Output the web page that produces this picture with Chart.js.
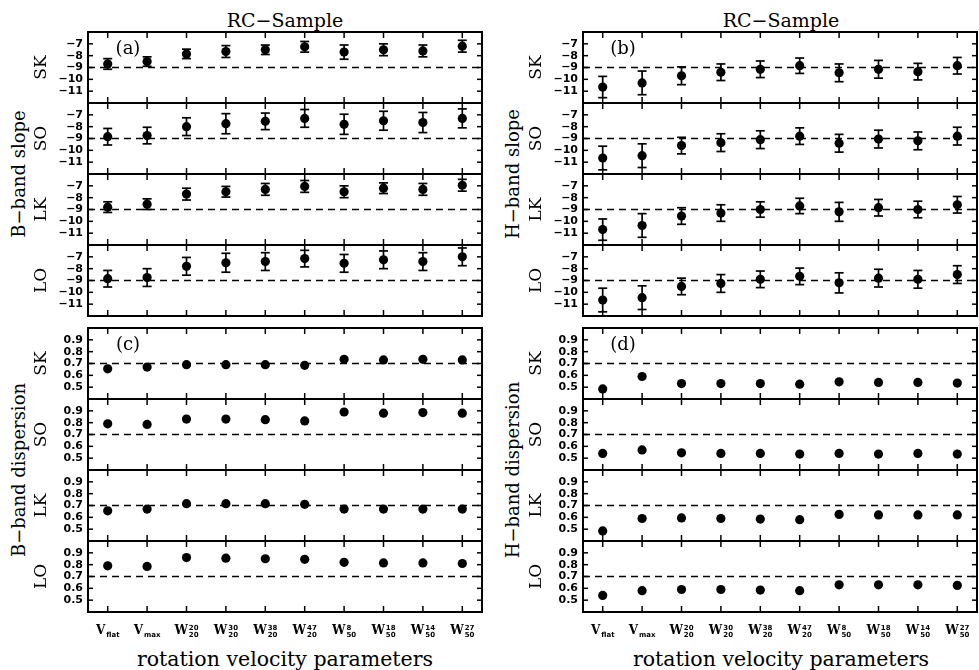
<!DOCTYPE html>
<html>
<head>
<meta charset="utf-8">
<script src="https://cdn.jsdelivr.net/npm/chart.js@4.4.1/dist/chart.umd.min.js"></script>
<style>
  html, body { margin: 0; padding: 0; background: #fff; }
  body { width: 979px; height: 670px; position: relative; overflow: hidden; font-family: 'DejaVu Serif', serif; color: #000; }
  canvas { position: absolute; }
  .txt { position: absolute; white-space: nowrap; transform: translate(-50%, -50%); }
  .vert { transform: translate(-50%, -50%) rotate(-90deg); }
</style>
</head>
<body>
<div class="txt" style="left:285px;top:20px;font-size:19px">RC−Sample</div>
<div class="txt" style="left:781px;top:20px;font-size:19px">RC−Sample</div>
<div class="txt vert" style="left:18px;top:174px;font-size:18px">B−band slope</div>
<div class="txt vert" style="left:18px;top:470px;font-size:18px">B−band dispersion</div>
<div class="txt vert" style="left:512px;top:174px;font-size:18px">H−band slope</div>
<div class="txt vert" style="left:512px;top:470px;font-size:18px">H−band dispersion</div>
<div class="txt" style="left:285px;top:659px;font-size:20.5px">rotation velocity parameters</div>
<div class="txt" style="left:781px;top:659px;font-size:20.5px">rotation velocity parameters</div>

<script>
// x categories and their label parts (base letter, superscript, subscript)
const categories = ['Vflat', 'Vmax', 'W20_20', 'W30_20', 'W38_20', 'W47_20', 'W8_50', 'W18_50', 'W14_50', 'W27_50'];
const xBase = ['V', 'V', 'W', 'W', 'W', 'W', 'W', 'W', 'W', 'W'];
const xSup = ['', '', '20', '30', '38', '47', '8', '18', '14', '27'];
const xSub = ['flat', 'max', '20', '20', '20', '20', '50', '50', '50', '50'];
const rowNames = ['SK', 'SO', 'LK', 'LO'];

const slopeTicks = [-11, -10, -9, -8, -7];
const dispTicks = [0.5, 0.6, 0.7, 0.8, 0.9];

// (a) B-band slope
const bSlopeSK = [-8.7, -8.5, -7.85, -7.65, -7.5, -7.25, -7.7, -7.5, -7.6, -7.2];
const bSlopeSKErr = [0.45, 0.4, 0.4, 0.5, 0.4, 0.45, 0.6, 0.5, 0.5, 0.5];
const bSlopeSO = [-8.85, -8.75, -8.0, -7.75, -7.55, -7.3, -7.8, -7.5, -7.65, -7.3];
const bSlopeSOErr = [0.7, 0.7, 0.75, 0.85, 0.7, 0.75, 0.85, 0.8, 0.85, 0.8];
const bSlopeLK = [-8.8, -8.55, -7.7, -7.5, -7.3, -7.05, -7.5, -7.2, -7.3, -6.95];
const bSlopeLKErr = [0.45, 0.45, 0.5, 0.45, 0.5, 0.5, 0.5, 0.45, 0.5, 0.5];
const bSlopeLO = [-8.85, -8.75, -7.8, -7.5, -7.4, -7.15, -7.55, -7.25, -7.4, -7.0];
const bSlopeLOErr = [0.7, 0.75, 0.75, 0.8, 0.75, 0.7, 0.75, 0.75, 0.75, 0.75];

// (b) H-band slope
const hSlopeSK = [-10.65, -10.3, -9.7, -9.4, -9.15, -8.85, -9.45, -9.15, -9.35, -8.85];
const hSlopeSKErr = [0.9, 1.0, 0.75, 0.7, 0.7, 0.65, 0.75, 0.75, 0.7, 0.7];
const hSlopeSO = [-10.65, -10.45, -9.6, -9.35, -9.1, -8.8, -9.4, -9.05, -9.2, -8.8];
const hSlopeSOErr = [1.0, 1.0, 0.7, 0.75, 0.75, 0.7, 0.75, 0.75, 0.75, 0.75];
const hSlopeLK = [-10.7, -10.35, -9.55, -9.3, -9.0, -8.7, -9.2, -8.85, -9.0, -8.6];
const hSlopeLKErr = [0.9, 1.0, 0.7, 0.7, 0.65, 0.65, 0.8, 0.7, 0.7, 0.7];
const hSlopeLO = [-10.65, -10.45, -9.5, -9.25, -8.9, -8.65, -9.2, -8.8, -8.9, -8.5];
const hSlopeLOErr = [1.0, 1.0, 0.7, 0.75, 0.7, 0.7, 0.85, 0.75, 0.75, 0.75];

// (c) B-band dispersion
const bDispSK = [0.655, 0.67, 0.69, 0.69, 0.69, 0.685, 0.735, 0.73, 0.735, 0.73];
const bDispSO = [0.79, 0.785, 0.83, 0.83, 0.825, 0.815, 0.89, 0.88, 0.885, 0.88];
const bDispLK = [0.655, 0.67, 0.715, 0.715, 0.715, 0.71, 0.67, 0.67, 0.67, 0.67];
const bDispLO = [0.79, 0.785, 0.86, 0.855, 0.85, 0.845, 0.82, 0.815, 0.815, 0.81];

// (d) H-band dispersion
const hDispSK = [0.485, 0.59, 0.53, 0.53, 0.53, 0.525, 0.545, 0.54, 0.54, 0.535];
const hDispSO = [0.54, 0.57, 0.545, 0.54, 0.54, 0.535, 0.54, 0.535, 0.54, 0.535];
const hDispLK = [0.485, 0.59, 0.595, 0.59, 0.585, 0.58, 0.625, 0.62, 0.62, 0.62];
const hDispLO = [0.54, 0.58, 0.59, 0.59, 0.585, 0.58, 0.63, 0.63, 0.63, 0.625];

// layout
const colLeft = [88, 583];
const plotW = 394;
const panelH = 71;
const slopeTop = 32;
const dispTop = 328;
const yAxisW = 60;

function line(ctx, x1, y1, x2, y2) {
    ctx.beginPath();
    ctx.moveTo(x1, y1);
    ctx.lineTo(x2, y2);
    ctx.stroke();
}

// frame, ticks, reference line, error bars, labels
const deco = {
    id: 'deco',
    beforeDatasetsDraw(chart, args, opts) {
        const { ctx, chartArea: a, scales: { x, y } } = chart;
        ctx.save();
        ctx.strokeStyle = '#000';
        ctx.lineWidth = 1.4;
        ctx.setLineDash([7, 5]);
        const ry = y.getPixelForValue(opts.ref);
        line(ctx, a.left, ry, a.right, ry);
        ctx.setLineDash([]);

        const ds = chart.data.datasets[0];
        if (ds.errors) {
            ctx.lineWidth = 1.7;
            ds.data.forEach((v, i) => {
                const px = x.getPixelForValue(i);
                const e = ds.errors[i];
                const y1 = y.getPixelForValue(v + e);
                const y2 = y.getPixelForValue(v - e);
                line(ctx, px, y1, px, y2);
                line(ctx, px - 4.5, y1, px + 4.5, y1);
                line(ctx, px - 4.5, y2, px + 4.5, y2);
            });
        }
        ctx.restore();
    },
    afterDatasetsDraw(chart, args, opts) {
        const { ctx, chartArea: a, scales: { x, y } } = chart;
        ctx.save();
        ctx.strokeStyle = '#000';
        ctx.fillStyle = '#000';
        ctx.lineWidth = 2;
        ctx.strokeRect(a.left, a.top, a.right - a.left, a.bottom - a.top);

        ctx.lineWidth = 1.5;
        categories.forEach((c, i) => {
            const px = x.getPixelForValue(i);
            line(ctx, px, a.top, px, a.top + 6);
            line(ctx, px, a.bottom - 6, px, a.bottom);
        });
        y.ticks.forEach(t => {
            const py = y.getPixelForValue(t.value);
            line(ctx, a.left, py, a.left + 5, py);
            line(ctx, a.right - 5, py, a.right, py);
        });

        // row label
        ctx.save();
        ctx.font = '17px "DejaVu Serif"';
        ctx.textAlign = 'center';
        ctx.textBaseline = 'middle';
        ctx.translate(a.left - 46, (a.top + a.bottom) / 2);
        ctx.rotate(-Math.PI / 2);
        ctx.fillText(opts.row, 0, 0);
        ctx.restore();

        if (opts.letter) {
            ctx.font = '18px "DejaVu Serif"';
            ctx.textAlign = 'center';
            ctx.textBaseline = 'middle';
            ctx.fillText(opts.letter, a.left + 40, a.top + 17);
        }

        if (opts.showX) {
            ctx.textBaseline = 'alphabetic';
            ctx.textAlign = 'left';
            categories.forEach((c, i) => {
                const px = x.getPixelForValue(i);
                ctx.font = 'bold 12px "DejaVu Serif"';
                const wb = ctx.measureText(xBase[i]).width;
                ctx.font = 'bold 7px "DejaVu Sans"';
                const ws = Math.max(ctx.measureText(xSup[i]).width, ctx.measureText(xSub[i]).width);
                const x0 = px - (wb + ws + 1) / 2;
                ctx.font = 'bold 12px "DejaVu Serif"';
                ctx.fillText(xBase[i], x0, a.bottom + 22);
                ctx.font = 'bold 7px "DejaVu Sans"';
                if (xSup[i]) ctx.fillText(xSup[i], x0 + wb + 1, a.bottom + 18);
                ctx.fillText(xSub[i], x0 + wb + 1, a.bottom + 25);
            });
        }
        ctx.restore();
    }
};

function makePanel(p) {
    const canvas = document.createElement('canvas');
    const extra = p.showX ? 50 : 0;
    canvas.width = yAxisW + plotW + 2;
    canvas.height = panelH + 4 + extra;
    canvas.style.left = (colLeft[p.col] - yAxisW) + 'px';
    canvas.style.top = (p.top - 2) + 'px';
    document.body.appendChild(canvas);

    new Chart(canvas, {
        type: 'line',
        data: {
            labels: categories,
            datasets: [{
                data: p.values,
                errors: p.errors,
                showLine: false,
                pointRadius: 4.6,
                pointHoverRadius: 4.6,
                pointBorderWidth: 0,
                pointBackgroundColor: '#000',
                pointBorderColor: '#000'
            }]
        },
        options: {
            responsive: false,
            animation: false,
            devicePixelRatio: 1,
            events: [],
            layout: { autoPadding: false, padding: { left: 0, right: 2, top: 2, bottom: 2 + extra } },
            plugins: {
                legend: { display: false },
                tooltip: { enabled: false },
                deco: { ref: p.ref, row: p.row, letter: p.letter, showX: p.showX }
            },
            scales: {
                x: { display: false, offset: true },
                y: {
                    min: p.min,
                    max: p.max,
                    afterBuildTicks: s => { s.ticks = p.ticks.map(v => ({ value: v })); },
                    afterFit: s => { s.width = yAxisW; s.paddingTop = 0; s.paddingBottom = 0; },
                    grid: { display: false, drawTicks: false },
                    border: { display: false },
                    ticks: {
                        autoSkip: false,
                        padding: 5,
                        color: '#000',
                        font: { family: 'DejaVu Sans', weight: 'bold', size: 11 },
                        callback: p.fmt
                    }
                }
            }
        },
        plugins: [deco]
    });
}

const slopeFmt = v => '−' + Math.abs(v);
const dispFmt = v => v.toFixed(1);

const slopeSets = [
    [[bSlopeSK, bSlopeSKErr], [bSlopeSO, bSlopeSOErr], [bSlopeLK, bSlopeLKErr], [bSlopeLO, bSlopeLOErr]],
    [[hSlopeSK, hSlopeSKErr], [hSlopeSO, hSlopeSOErr], [hSlopeLK, hSlopeLKErr], [hSlopeLO, hSlopeLOErr]]
];
const dispSets = [
    [bDispSK, bDispSO, bDispLK, bDispLO],
    [hDispSK, hDispSO, hDispLK, hDispLO]
];
const slopeLetters = ['(a)', '(b)'];
const dispLetters = ['(c)', '(d)'];

[0, 1].forEach(col => {
    rowNames.forEach((row, r) => {
        makePanel({
            col: col, top: slopeTop + r * panelH, row: row,
            values: slopeSets[col][r][0], errors: slopeSets[col][r][1],
            min: -12, max: -6, ticks: slopeTicks, ref: -9, fmt: slopeFmt,
            letter: r === 0 ? slopeLetters[col] : null, showX: false
        });
        makePanel({
            col: col, top: dispTop + r * panelH, row: row,
            values: dispSets[col][r], errors: null,
            min: 0.4, max: 1.0, ticks: dispTicks, ref: 0.7, fmt: dispFmt,
            letter: r === 0 ? dispLetters[col] : null, showX: r === 3
        });
    });
});
</script>
</body>
</html>
